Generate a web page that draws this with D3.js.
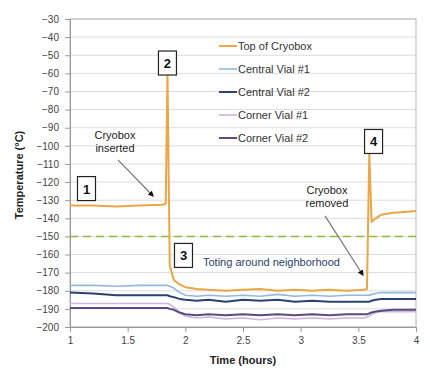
<!DOCTYPE html>
<html lang="en">
<head>
  <meta charset="UTF-8">
  <title>Cryobox temperature</title>
  <script src="https://d3js.org/d3.v7.min.js"></script>
  <style>
    body { margin: 0; background: #fff; font-family: "Liberation Sans", Arial, sans-serif; }
    .axis text { font-size: 10px; fill: #444; }
    .axis path, .axis line { stroke: #999; }
  </style>
</head>
<body>
  <div id="chart"></div>
  <script>
    // time in hours
    const times = [1.0, 1.2, 1.4, 1.6, 1.8, 1.83, 1.845, 1.865, 1.9, 1.95, 2.0, 2.1, 2.2, 2.35, 2.5,
                   2.65, 2.8, 2.95, 3.1, 3.25, 3.4, 3.55, 3.575, 3.595, 3.615, 3.65, 3.7, 3.8, 3.9, 4.0];
    const topCryobox = [-133, -133, -133.5, -133, -132.5, -132, -60, -166, -174, -176.5, -178, -179, -179.5, -180, -179.5,
                        -179, -180, -179.5, -180, -179.5, -180, -179.5, -179, -104, -142, -140, -138, -137, -136.5, -136];
    const centralVial1 = [-177, -177, -177.5, -177, -177, -177, -177, -177.5, -178.5, -181, -182.5, -183, -182.5, -183, -182.5,
                          -183, -182, -183, -182.5, -183, -182.5, -182.5, -182.5, -182.5, -182, -181.5, -181, -181, -181, -181];
    const centralVial2 = [-181, -181.5, -182.5, -182.5, -182.5, -182.5, -182.5, -183, -183.5, -184.5, -185, -185.5, -185, -186, -185,
                          -185.5, -185, -186, -185.5, -186, -186, -186, -186, -186, -185.5, -185, -184.5, -184.5, -184.5, -184.5];
    const cornerVial1 = [-187, -187, -187, -187, -187, -187, -187, -187.5, -189, -192, -194, -195, -194.5, -195.5, -195,
                         -196, -195, -195.5, -195, -195.5, -195, -195, -194.5, -194, -193, -192, -191.5, -191.5, -191.5, -191.5];
    const cornerVial2 = [-189.5, -189.5, -189.5, -189.5, -189.5, -189.5, -189.5, -190, -190.5, -192, -193, -193.5, -193, -193.5, -193,
                         -193.5, -193, -193.5, -193, -193.5, -193, -193, -193, -192.5, -192, -191.5, -191, -190.5, -190.5, -190.5];
    const seriesNames = ["Top of Cryobox", "Central Vial #1", "Central Vial #2", "Corner Vial #1", "Corner Vial #2"];
    const seriesColors = ["#eda545", "#92b8e0", "#2b426f", "#cdb5dc", "#5a4c7c"];
    const seriesWidths = [2, 1.6, 2, 1.6, 2];
    const referenceTemp = -150;
    const xTicks = [1, 1.5, 2, 2.5, 3, 3.5, 4];
    const yTicks = [-200, -190, -180, -170, -160, -150, -140, -130, -120, -110, -100, -90, -80, -70, -60, -50, -40, -30];

    const W = 430, H = 368;
    const margin = {top: 19, right: 14, bottom: 41, left: 70};
    const width = W - margin.left - margin.right,
          height = H - margin.top - margin.bottom;

    const svg = d3.select("#chart").append("svg")
                  .attr("width", W).attr("height", H);
    const g = svg.append("g").attr("transform", `translate(${margin.left},${margin.top})`);

    const x = d3.scaleLinear().domain([1, 4]).range([0, width]);
    const y = d3.scaleLinear().domain([-200, -30]).range([height, 0]);

    // gridlines
    g.append("g").selectAll("line").data(yTicks).enter().append("line")
     .attr("x1", 0).attr("x2", width)
     .attr("y1", d => y(d)).attr("y2", d => y(d))
     .attr("stroke", "#dcdcdc").attr("stroke-width", 1);

    g.append("rect").attr("width", width).attr("height", height)
     .attr("fill", "none").attr("stroke", "#b5b5b5");

    g.append("g").attr("class", "axis")
     .call(d3.axisLeft(y).tickValues(yTicks).tickSize(5).tickPadding(6));
    g.append("g").attr("class", "axis").attr("transform", `translate(0,${height})`)
     .call(d3.axisBottom(x).tickValues(xTicks).tickSize(5).tickPadding(5).tickFormat(d3.format("")));

    // -150 reference
    g.append("line").attr("x1", 0).attr("x2", width)
     .attr("y1", y(referenceTemp)).attr("y2", y(referenceTemp))
     .attr("stroke", "#8dbb3c").attr("stroke-width", 1.5).attr("stroke-dasharray", "8,5");

    const allSeries = [topCryobox, centralVial1, centralVial2, cornerVial1, cornerVial2];
    const line = d3.line().x((d, i) => x(times[i])).y(d => y(d));
    // draw vials first, then top of cryobox
    [3, 4, 1, 2, 0].forEach(k => {
      g.append("path").datum(allSeries[k])
       .attr("fill", "none").attr("stroke", seriesColors[k])
       .attr("stroke-width", seriesWidths[k]).attr("stroke-linejoin", "round")
       .attr("d", line);
    });

    // legend
    const legend = g.append("g").attr("transform", `translate(${219 - margin.left},${46 - margin.top})`);
    seriesNames.forEach((name, i) => {
      const row = legend.append("g").attr("transform", `translate(0,${i * 23})`);
      row.append("line").attr("x1", 0).attr("x2", 18).attr("y1", 0).attr("y2", 0)
         .attr("stroke", seriesColors[i]).attr("stroke-width", seriesWidths[i]);
      row.append("text").attr("x", 19).attr("y", 4)
         .style("font-size", "11px").style("fill", "#333").text(name);
    });

    // numbered boxes
    const boxes = [
      {label: "1", t: 1.143, v: -123.6},
      {label: "2", t: 1.845, v: -54.3},
      {label: "3", t: 1.984, v: -160.5},
      {label: "4", t: 3.632, v: -97.6}
    ];
    boxes.forEach(b => {
      const bx = g.append("g").attr("transform", `translate(${x(b.t)},${y(b.v)})`);
      bx.append("rect").attr("x", -9).attr("y", -12).attr("width", 18).attr("height", 24)
        .attr("fill", "#fff").attr("stroke", "#222").attr("stroke-width", 1.2);
      bx.append("text").attr("text-anchor", "middle").attr("y", 5)
        .style("font-size", "13px").style("font-weight", "bold").style("fill", "#111").text(b.label);
    });

    // arrows
    svg.append("defs").append("marker").attr("id", "head")
       .attr("viewBox", "0 0 10 10").attr("refX", 8).attr("refY", 5)
       .attr("markerWidth", 5).attr("markerHeight", 5).attr("orient", "auto")
       .append("path").attr("d", "M0,0L10,5L0,10z").attr("fill", "#111");

    const notes = [
      {lines: ["Cryobox", "inserted"], t: 1.39, v: -96.2, from: [1.416, -107.8], to: [1.72, -127.7]},
      {lines: ["Cryobox", "removed"], t: 3.228, v: -126.6, from: [3.211, -138.7], to: [3.54, -171.3]}
    ];
    notes.forEach(n => {
      n.lines.forEach((s, i) => {
        g.append("text").attr("x", x(n.t)).attr("y", y(n.v) + i * 13)
         .attr("text-anchor", "middle").style("font-size", "11px").style("fill", "#222").text(s);
      });
      g.append("line")
       .attr("x1", x(n.from[0])).attr("y1", y(n.from[1]))
       .attr("x2", x(n.to[0])).attr("y2", y(n.to[1]))
       .attr("stroke", "#777").attr("stroke-width", 1.2).attr("marker-end", "url(#head)");
    });

    g.append("text").attr("x", x(2.153)).attr("y", y(-166.3))
     .style("font-size", "11px").style("fill", "#2b3f6b").text("Toting around neighborhood");

    // axis titles
    svg.append("text").attr("x", margin.left + width / 2).attr("y", 364)
       .attr("text-anchor", "middle").style("font-size", "11px").style("font-weight", "bold")
       .style("fill", "#222").text("Time (hours)");
    svg.append("text").attr("transform", "translate(23,175) rotate(-90)")
       .attr("text-anchor", "middle").style("font-size", "11px").style("font-weight", "bold")
       .style("fill", "#222").text("Temperature (°C)");
  </script>
</body>
</html>
